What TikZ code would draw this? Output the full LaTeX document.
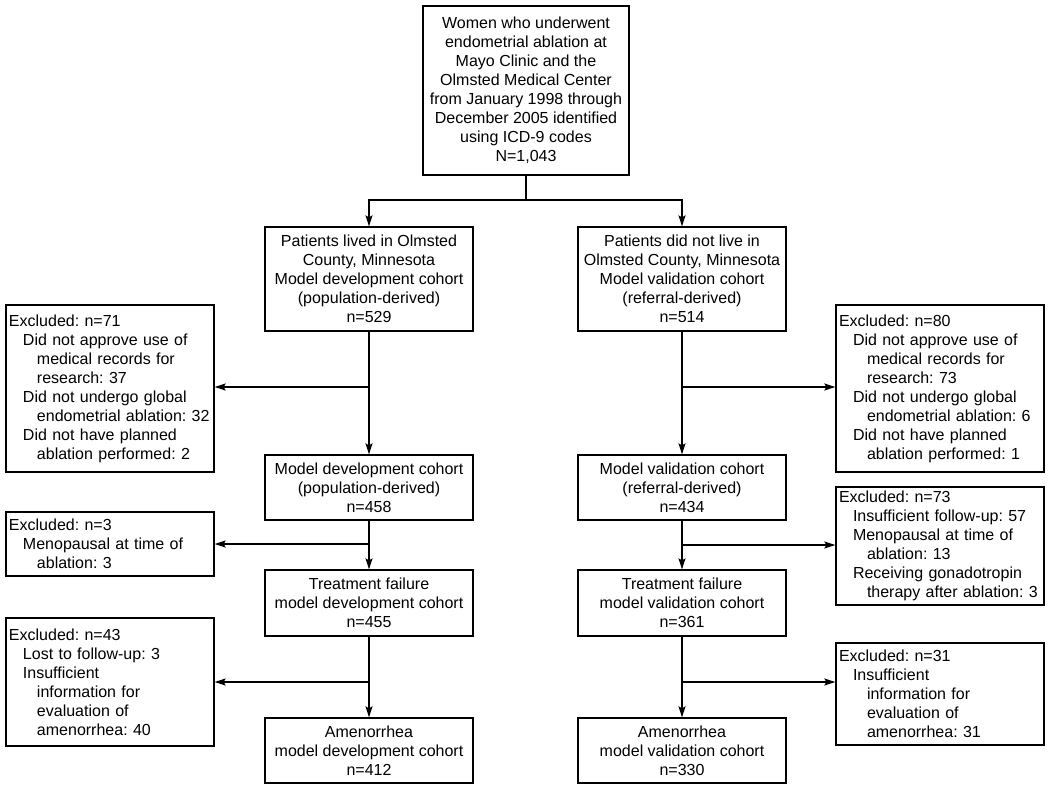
\documentclass[tikz,border=0pt]{standalone}
\usepackage{fontspec}
\setmainfont{Liberation Sans}
\usetikzlibrary{arrows.meta}

\newcommand{\inda}{\hspace*{14pt}}
\newcommand{\indb}{\hspace*{28pt}}

\begin{document}
\frenchspacing
\begin{tikzpicture}[x=1pt, y=-1pt,
        font=\fontsize{16}{19}\selectfont,
        box/.style={draw, line width=1.3pt, align=center, minimum width=208pt, inner sep=3pt},
        excl/.style={draw, line width=1.3pt, align=left, text width=202pt, inner xsep=3pt, inner ysep=3pt},
        link/.style={line width=1.3pt},
        arr/.style={link, -{Stealth[length=11pt, width=7pt, inset=2pt]}}]
        \useasboundingbox (0,0) rectangle (1050,790);
        % top
        \node[box, minimum width=206pt, minimum height=169pt] (women) at(526,90.5){Women who underwent\\endometrial ablation at\\Mayo Clinic and the\\Olmsted Medical Center\\from January 1998 through\\December 2005 identified\\using ICD-9 codes\\N=1,043};
        % development column
        \node[box, minimum height=104pt] (devA) at(369,279){Patients lived in Olmsted\\County, Minnesota\\Model development cohort\\(population-derived)\\n=529};
        \node[box, minimum height=65pt] (devB) at(369,487.5){Model development cohort\\(population-derived)\\n=458};
        \node[box, minimum height=66pt] (devC) at(369,603){Treatment failure\\model development cohort\\n=455};
        \node[box, minimum height=65pt] (devD) at(369,750.5){Amenorrhea\\model development cohort\\n=412};
        % validation column
        \node[box, minimum height=104pt] (valA) at(682,279){Patients did not live in\\Olmsted County, Minnesota\\Model validation cohort\\(referral-derived)\\n=514};
        \node[box, minimum height=65pt] (valB) at(682,487.5){Model validation cohort\\(referral-derived)\\n=434};
        \node[box, minimum height=66pt] (valC) at(682,603){Treatment failure\\model validation cohort\\n=361};
        \node[box, minimum height=65pt] (valD) at(682,750.5){Amenorrhea\\model validation cohort\\n=330};
        % exclusions, left
        \node[excl, minimum height=167pt] (exDevA) at(110,388.5){Excluded: n=71\\ \inda Did not approve use of\\ \indb medical records for\\ \indb research: 37\\ \inda Did not undergo global\\ \indb endometrial ablation: 32\\ \inda Did not have planned\\ \indb ablation performed: 2};
        \node[excl, minimum height=64pt] (exDevB) at(110,544){Excluded: n=3\\ \inda Menopausal at time of\\ \indb ablation: 3};
        \node[excl, minimum height=128pt] (exDevC) at(110,682){Excluded: n=43\\ \inda Lost to follow-up: 3\\ \inda Insufficient\\ \indb information for\\ \indb evaluation of\\ \indb amenorrhea: 40};
        % exclusions, right
        \node[excl, minimum height=167pt] (exValA) at(940,388.5){Excluded: n=80\\ \inda Did not approve use of\\ \indb medical records for\\ \indb research: 73\\ \inda Did not undergo global\\ \indb endometrial ablation: 6\\ \inda Did not have planned\\ \indb ablation performed: 1};
        \node[excl, minimum height=118pt] (exValB) at(940,546){Excluded: n=73\\ \inda Insufficient follow-up: 57\\ \inda Menopausal at time of\\ \indb ablation: 13\\ \inda Receiving gonadotropin\\ \indb therapy after ablation: 3};
        \node[excl, minimum height=102pt] (exValC) at(940,694){Excluded: n=31\\ \inda Insufficient\\ \indb information for\\ \indb evaluation of\\ \indb amenorrhea: 31};
        % branch points
        \coordinate (split) at(526,200);
        \coordinate (devBrA) at(369,387);
        \coordinate (devBrB) at(369,544);
        \coordinate (devBrC) at(369,682);
        \coordinate (valBrA) at(682,387);
        \coordinate (valBrB) at(682,545);
        \coordinate (valBrC) at(682,682);
        % connectors
        \draw[link] (women) -- (split);
        \draw[arr] (split) -| (devA);
        \draw[arr] (split) -| (valA);
        \draw[arr] (devA) -- (devB);
        \draw[arr] (devB) -- (devC);
        \draw[arr] (devC) -- (devD);
        \draw[arr] (valA) -- (valB);
        \draw[arr] (valB) -- (valC);
        \draw[arr] (valC) -- (valD);
        \draw[arr] (devBrA) -- (exDevA.east |- devBrA);
        \draw[arr] (devBrB) -- (exDevB.east |- devBrB);
        \draw[arr] (devBrC) -- (exDevC.east |- devBrC);
        \draw[arr] (valBrA) -- (exValA.west |- valBrA);
        \draw[arr] (valBrB) -- (exValB.west |- valBrB);
        \draw[arr] (valBrC) -- (exValC.west |- valBrC);
\end{tikzpicture}
\end{document}
